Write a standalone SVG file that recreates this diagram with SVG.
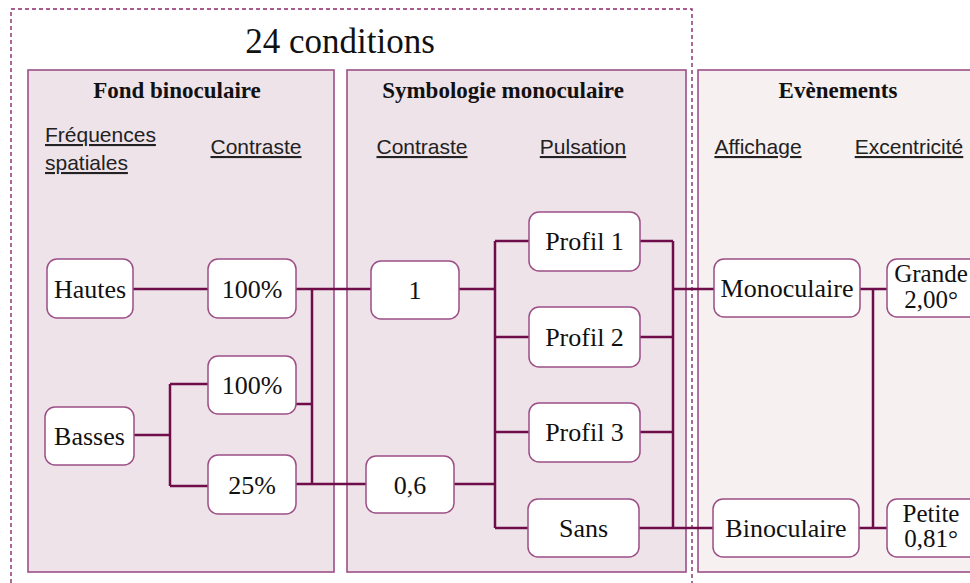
<svg xmlns="http://www.w3.org/2000/svg" width="970" height="583" viewBox="0 0 970 583">
<style>
.panel{fill:#efe3ea;stroke:#9c4f86;stroke-width:1.6}
.panel3{fill:#f6f0f1;stroke:#9c4f86;stroke-width:1.6}
.node rect{fill:#fff;stroke:#9c4f86;stroke-width:1.5}
.node text{font-family:"Liberation Serif","Times New Roman",serif;font-size:26px;fill:#111;text-anchor:middle}
.node text.sm{font-size:25px}
.hdr{font-family:"Liberation Serif","Times New Roman",serif;font-size:23px;font-weight:bold;fill:#111;text-anchor:middle}
.sub{font-family:"Liberation Sans",Arial,sans-serif;font-size:21px;fill:#222;text-decoration:underline}
.conn{fill:none;stroke:#6e0d4a;stroke-width:2.5}
</style>
<rect width="970" height="583" fill="#fff"/>
<g id="panels">
<rect class="panel" x="28" y="70" width="306" height="502"/>
<rect class="panel" x="347" y="70" width="339" height="502"/>
<rect class="panel3" x="698" y="70" width="290" height="502"/>
</g>
<path d="M11,590 V9 H692 V590" fill="none" stroke="#8b2a6a" stroke-width="1.4" stroke-dasharray="4,3"/>
<text x="340" y="53" font-family="Liberation Serif, Times New Roman, serif" font-size="35" fill="#111" text-anchor="middle">24 conditions</text>
<g id="headers">
<text class="hdr" x="177" y="98">Fond binoculaire</text>
<text class="hdr" x="503" y="98">Symbologie monoculaire</text>
<text class="hdr" x="838" y="98">Evènements</text>
<text class="sub" x="45" y="142">Fréquences</text>
<text class="sub" x="45" y="170">spatiales</text>
<text class="sub" x="256" y="154" text-anchor="middle">Contraste</text>
<text class="sub" x="422" y="154" text-anchor="middle">Contraste</text>
<text class="sub" x="583" y="154" text-anchor="middle">Pulsation</text>
<text class="sub" x="758" y="154" text-anchor="middle">Affichage</text>
<text class="sub" x="909" y="154" text-anchor="middle">Excentricité</text>
</g>
<g id="connectors" class="conn">
<path d="M133,289 H208"/>
<path d="M134,435 H170 M170,384 V486 M170,384 H208 M170,486 H208"/>
<path d="M296,289 H371 M296,404 H312 M296,484 H366 M312,289 V484"/>
<path d="M459,289 H495 M454,484 H495 M495,241 V528 M495,241 H529 M495,337 H529 M495,432 H529 M495,528 H528"/>
<path d="M640,241 H673 M640,337 H673 M640,432 H673 M639,528 H713 M673,241 V528 M673,289 H714"/>
<path d="M860,289 H887 M859,528 H887 M873,289 V528"/>
</g>
<g id="n-hautes" class="node"><rect x="47" y="259" width="86" height="59" rx="10"/><text x="90" y="298">Hautes</text></g>
<g id="n-basses" class="node"><rect x="45" y="407" width="89" height="58" rx="10"/><text x="89.5" y="445">Basses</text></g>
<g id="n-c100a" class="node"><rect x="208" y="259" width="88" height="59" rx="10"/><text x="252" y="298">100%</text></g>
<g id="n-c100b" class="node"><rect x="208" y="356" width="88" height="58" rx="10"/><text x="252" y="394">100%</text></g>
<g id="n-c25" class="node"><rect x="208" y="455" width="88" height="59" rx="10"/><text x="252" y="494">25%</text></g>
<g id="n-s1" class="node"><rect x="371" y="261" width="88" height="58" rx="10"/><text x="415" y="299">1</text></g>
<g id="n-s06" class="node"><rect x="366" y="456" width="88" height="57" rx="10"/><text x="410" y="494">0,6</text></g>
<g id="n-p1" class="node"><rect x="529" y="212" width="111" height="59" rx="10"/><text x="584.5" y="250">Profil 1</text></g>
<g id="n-p2" class="node"><rect x="529" y="307" width="111" height="60" rx="10"/><text x="584.5" y="346">Profil 2</text></g>
<g id="n-p3" class="node"><rect x="529" y="403" width="111" height="59" rx="10"/><text x="584.5" y="441">Profil 3</text></g>
<g id="n-sans" class="node"><rect x="528" y="499" width="111" height="58" rx="10"/><text x="583.5" y="537">Sans</text></g>
<g id="n-mono" class="node"><rect x="714" y="259" width="146" height="58" rx="10"/><text x="787" y="297">Monoculaire</text></g>
<g id="n-bino" class="node"><rect x="713" y="499" width="146" height="58" rx="10"/><text x="786" y="537">Binoculaire</text></g>
<g id="n-grande" class="node"><rect x="887" y="259" width="92" height="58" rx="10"/><text class="sm" x="931" y="282">Grande</text><text class="sm" x="931" y="308">2,00°</text></g>
<g id="n-petite" class="node"><rect x="887" y="499" width="92" height="58" rx="10"/><text class="sm" x="931" y="522">Petite</text><text class="sm" x="931" y="547">0,81°</text></g>
</svg>
